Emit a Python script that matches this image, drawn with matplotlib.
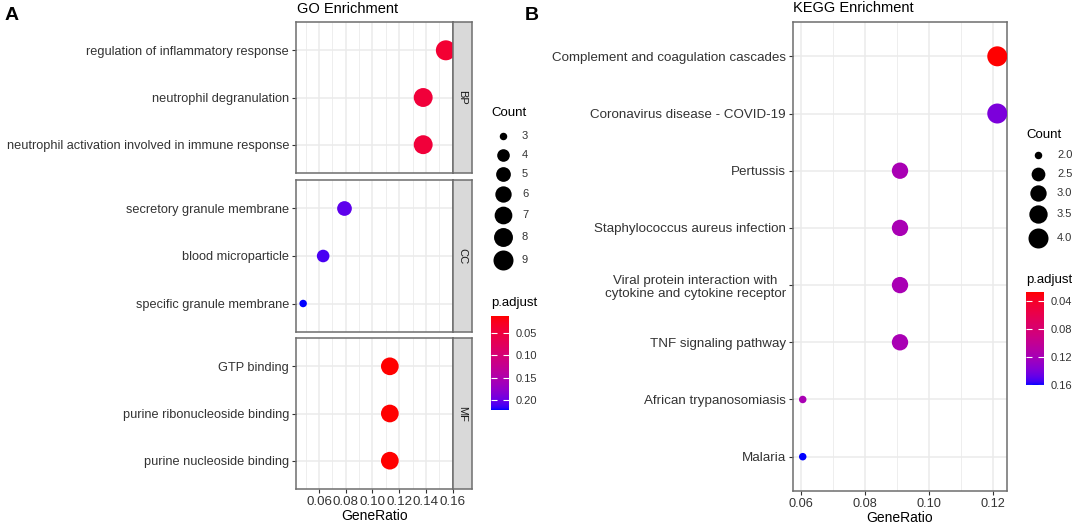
"""GO / KEGG enrichment dot plots (two panels, clusterProfiler style)."""

import numpy as np
import matplotlib
matplotlib.use("Agg")
import matplotlib.pyplot as plt
from matplotlib.colors import ListedColormap, Normalize
from matplotlib.ticker import MultipleLocator

plt.rcParams['font.family'] = ['Liberation Sans', 'DejaVu Sans']

# ---- GO data (three facets) ----
bp_terms = ["regulation of inflammatory response", "neutrophil degranulation",
            "neutrophil activation involved in immune response"]
bp_ratio = [0.155, 0.138, 0.138]
bp_count = [9, 8, 8]
bp_padj = [0.040, 0.046, 0.046]

cc_terms = ["secretory granule membrane", "blood microparticle", "specific granule membrane"]
cc_ratio = [0.079, 0.063, 0.048]
cc_count = [5, 4, 3]
cc_padj = [0.205, 0.212, 0.222]

mf_terms = ["GTP binding", "purine ribonucleoside binding", "purine nucleoside binding"]
mf_ratio = [0.113, 0.113, 0.113]
mf_count = [7, 7, 7]
mf_padj = [0.012, 0.012, 0.012]

go_ticks = [0.06, 0.08, 0.10, 0.12, 0.14, 0.16]
go_size_breaks = [3, 4, 5, 6, 7, 8, 9]
go_color_breaks = [0.05, 0.10, 0.15, 0.20]

# ---- KEGG data ----
kegg_terms = ["Complement and coagulation cascades", "Coronavirus disease - COVID-19",
              "Pertussis", "Staphylococcus aureus infection",
              "Viral protein interaction with\ncytokine and cytokine receptor",
              "TNF signaling pathway", "African trypanosomiasis", "Malaria"]
kegg_ratio = [0.1212, 0.1212, 0.0909, 0.0909, 0.0909, 0.0909, 0.0606, 0.0606]
kegg_count = [4, 4, 3, 3, 3, 3, 2, 2]
kegg_padj = [0.0265, 0.140, 0.118, 0.118, 0.118, 0.118, 0.118, 0.160]

kegg_ticks = [0.06, 0.08, 0.10, 0.12]
kegg_size_breaks = [2.0, 2.5, 3.0, 3.5, 4.0]
kegg_color_breaks = [0.04, 0.08, 0.12, 0.16]

W, H = 1072, 529
TXT = "#333333"
BORDER = "#6E6E6E"
GRID = "#EBEBEB"


def to_lab(rgb):
    rgb = np.asarray(rgb, float)
    lin = np.where(rgb > 0.04045, ((rgb + 0.055) / 1.055) ** 2.4, rgb / 12.92)
    m = np.array([[0.4124, 0.3576, 0.1805], [0.2126, 0.7152, 0.0722], [0.0193, 0.1192, 0.9505]])
    xyz = m @ lin / np.array([0.95047, 1.0, 1.08883])
    f = np.where(xyz > 0.008856, np.cbrt(xyz), 7.787 * xyz + 16 / 116)
    return np.array([116 * f[1] - 16, 500 * (f[0] - f[1]), 200 * (f[1] - f[2])])


def from_lab(lab):
    fy = (lab[0] + 16) / 116
    f = np.array([fy + lab[1] / 500, fy, fy - lab[2] / 200])
    xyz = np.where(f ** 3 > 0.008856, f ** 3, (f - 16 / 116) / 7.787) * np.array([0.95047, 1.0, 1.08883])
    m = np.array([[3.2406, -1.5372, -0.4986], [-0.9689, 1.8758, 0.0415], [0.0557, -0.2040, 1.0570]])
    lin = np.clip(m @ xyz, 0, 1)
    rgb = np.where(lin > 0.0031308, 1.055 * lin ** (1 / 2.4) - 0.055, 12.92 * lin)
    return np.clip(rgb, 0, 1)


# red -> blue gradient interpolated in Lab like ggplot
lab_lo, lab_hi = to_lab([1, 0, 0]), to_lab([0, 0, 1])
cmap = ListedColormap([from_lab(lab_lo + t * (lab_hi - lab_lo)) for t in np.linspace(0, 1, 256)])


def dot_px(c, cmin, cmax):
    # scale_size(range = c(3, 8)), area based
    return (3 + 5 * np.sqrt((np.asarray(c, float) - cmin) / (cmax - cmin))) * 2.5


def px_axes(fig, x0, y0, x1, y1):
    return fig.add_axes([x0 / W, 1 - y1 / H, (x1 - x0) / W, (y1 - y0) / H])


def style_panel(ax, xlim, ticks, fs):
    ax.set_xlim(*xlim)
    ax.set_xticks(ticks)
    ax.xaxis.set_minor_locator(MultipleLocator(0.01))
    ax.grid(True, which='major', color=GRID, lw=1.1, zorder=0)
    ax.grid(True, which='minor', axis='x', color=GRID, lw=0.6, zorder=0)
    ax.set_axisbelow(True)
    for s in ax.spines.values():
        s.set_color(BORDER)
        s.set_linewidth(1.1)
    ax.tick_params(which='major', length=3, width=0.8, color=TXT, labelsize=fs, labelcolor=TXT, pad=2)
    ax.tick_params(which='minor', length=0)


def dots(ax, terms, ratio, count, padj, cmin, cmax, norm, fs):
    y = np.arange(len(terms))
    d = dot_px(count, cmin, cmax)
    ax.scatter(ratio, y, s=(d * 0.72) ** 2, c=padj, cmap=cmap, norm=norm, lw=0, zorder=3)
    ax.set_ylim(len(terms) - 0.4, -0.6)
    ax.set_yticks(y)
    ax.set_yticklabels(terms, fontsize=fs)


def size_legend(lax, x, y0, breaks, cmin, cmax, labels):
    d = dot_px(breaks, cmin, cmax)
    y = y0
    for i, (b, di) in enumerate(zip(breaks, d)):
        lax.scatter([x], [y], s=(di * 0.72) ** 2, color='black', lw=0)
        lax.text(x + 19, y, labels[i], fontsize=8, color=TXT, va='center', ha='left')
        if i + 1 < len(d):
            y += max(19, (di + d[i + 1]) / 2 + 4)


def color_legend(fig, x0, y0, x1, y1, norm, breaks):
    cax = px_axes(fig, x0, y0, x1, y1)
    grad = np.linspace(norm.vmin, norm.vmax, 200).reshape(-1, 1)
    cax.imshow(grad, aspect='auto', cmap=cmap, norm=norm,
               extent=[0, 1, norm.vmax, norm.vmin])
    cax.set_ylim(norm.vmax, norm.vmin)
    cax.set_xticks([])
    cax.yaxis.tick_right()
    cax.set_yticks(breaks)
    cax.set_yticklabels([f"{b:.2f}" for b in breaks])
    cax.tick_params(axis='y', direction='in', length=4, width=0.8, color='white',
                    left=True, right=True, labelsize=8, labelcolor=TXT, pad=5)
    for s in cax.spines.values():
        s.set_visible(False)


fig = plt.figure(figsize=(W / 100, H / 100), dpi=100)

# ---------------- panel A: GO ----------------
go_counts = bp_count + cc_count + mf_count
go_padj = bp_padj + cc_padj + mf_padj
go_ratio = bp_ratio + cc_ratio + mf_ratio
go_cmin, go_cmax = min(go_counts), max(go_counts)
go_norm = Normalize(min(go_padj), max(go_padj))
span = max(go_ratio) - min(go_ratio)
go_xlim = (min(go_ratio) - 0.05 * span, max(go_ratio) + 0.05 * span)

facets = [("BP", bp_terms, bp_ratio, bp_count, bp_padj, 22, 173),
          ("CC", cc_terms, cc_ratio, cc_count, cc_padj, 180, 332),
          ("MF", mf_terms, mf_ratio, mf_count, mf_padj, 338, 489)]
for name, terms, ratio, count, padj, top, bot in facets:
    ax = px_axes(fig, 296, top, 453, bot)
    style_panel(ax, go_xlim, go_ticks, 9.6)
    dots(ax, terms, ratio, count, padj, go_cmin, go_cmax, go_norm, 9.2)
    if name != "MF":
        ax.tick_params(axis='x', which='both', length=0, labelbottom=False)
    else:
        ax.set_xticklabels([f"{t:.2f}" for t in go_ticks])
        ax.set_xlabel("GeneRatio", fontsize=10, color='black', labelpad=1)
    sax = px_axes(fig, 453, top, 472, bot)
    sax.set_facecolor('#D9D9D9')
    sax.set_xticks([])
    sax.set_yticks([])
    for s in sax.spines.values():
        s.set_color(BORDER)
        s.set_linewidth(1.1)
    sax.text(0.5, 0.5, name, rotation=270, ha='center', va='center',
             fontsize=8, color='#1A1A1A', transform=sax.transAxes)

# ---------------- panel B: KEGG ----------------
k_cmin, k_cmax = min(kegg_count), max(kegg_count)
k_norm = Normalize(min(kegg_padj), max(kegg_padj))
span = max(kegg_ratio) - min(kegg_ratio)
k_xlim = (min(kegg_ratio) - 0.05 * span, max(kegg_ratio) + 0.05 * span)

kax = px_axes(fig, 793, 22, 1007, 491)
style_panel(kax, k_xlim, kegg_ticks, 9.2)
dots(kax, kegg_terms, kegg_ratio, kegg_count, kegg_padj, k_cmin, k_cmax, k_norm, 9.6)
kax.set_xticklabels([f"{t:.2f}" for t in kegg_ticks])
for lab in kax.get_yticklabels():
    lab.set_multialignment('center')
kax.set_xlabel("GeneRatio", fontsize=10, color='black', labelpad=1)

# ---------------- titles, legends ----------------
lax = fig.add_axes([0, 0, 1, 1], zorder=5)
lax.set_xlim(0, W)
lax.set_ylim(H, 0)
lax.axis('off')

fig.text(5 / W, 1 - 15 / H, "A", fontsize=14, fontweight='bold', va='center', ha='left')
fig.text(525 / W, 1 - 15 / H, "B", fontsize=14, fontweight='bold', va='center', ha='left')
fig.text(297 / W, 1 - 9 / H, "GO Enrichment", fontsize=10.5, va='center', ha='left')
fig.text(793 / W, 1 - 8 / H, "KEGG Enrichment", fontsize=10.5, va='center', ha='left')

fig.text(491 / W, 1 - 113 / H, "Count", fontsize=9.5, va='center', ha='left')
size_legend(lax, 503, 136, go_size_breaks, go_cmin, go_cmax, [str(b) for b in go_size_breaks])
fig.text(491 / W, 1 - 303 / H, "p.adjust", fontsize=9.5, va='center', ha='left')
color_legend(fig, 491, 316, 509, 410, go_norm, go_color_breaks)

fig.text(1026 / W, 1 - 135 / H, "Count", fontsize=9.5, va='center', ha='left')
size_legend(lax, 1038, 155, kegg_size_breaks, k_cmin, k_cmax, [f"{b:.1f}" for b in kegg_size_breaks])
fig.text(1026 / W, 1 - 280 / H, "p.adjust", fontsize=9.5, va='center', ha='left')
color_legend(fig, 1026, 292, 1044, 385, k_norm, kegg_color_breaks)

fig.savefig("out.png", dpi=100)
